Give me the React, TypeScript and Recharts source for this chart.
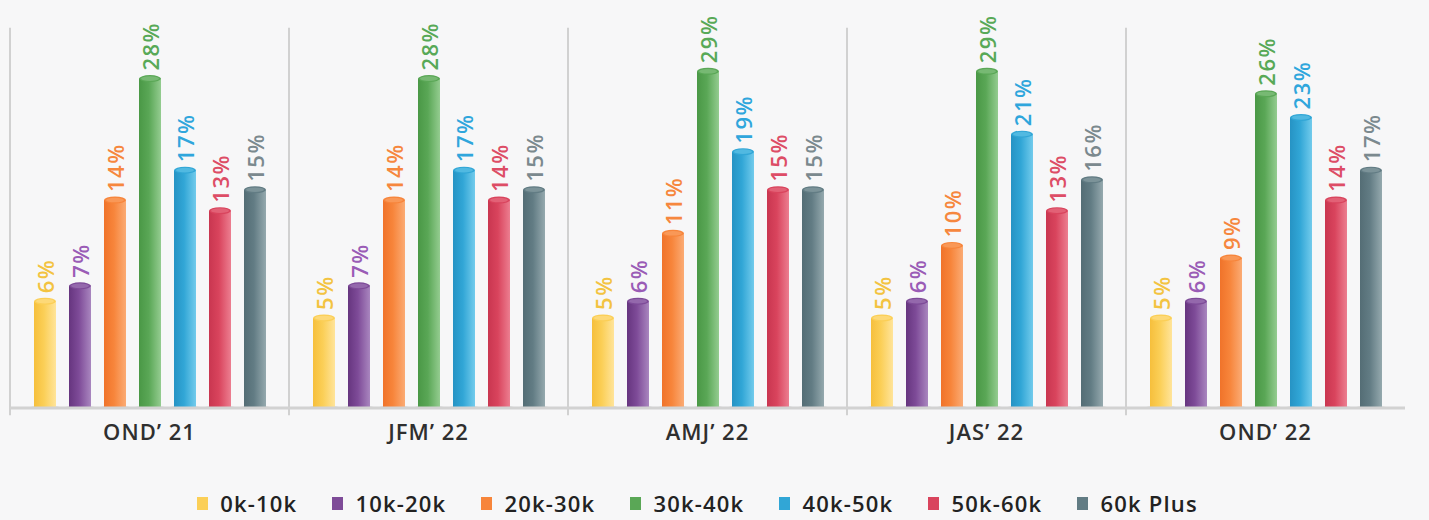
import { BarChart, Bar, XAxis, YAxis, LabelList, ReferenceLine } from "recharts";

// quarters on the x axis
const categories = ["OND’ 21", "JFM’ 22", "AMJ’ 22", "JAS’ 22", "OND’ 22"];

// share of respondents per income band, in %
const band0to10 = [6, 5, 5, 5, 5];
const band10to20 = [7, 7, 6, 6, 6];
const band20to30 = [14, 14, 11, 10, 9];
const band30to40 = [28, 28, 29, 29, 26];
const band40to50 = [17, 17, 19, 21, 23];
const band50to60 = [13, 14, 15, 13, 14];
const band60plus = [15, 15, 15, 16, 17];

const SERIES = [
  { key: "b0", name: "0k-10k", values: band0to10, color: "#fbcf57", dark: "#f6bf3c", light: "#ffe49a", label: "#f3c341" },
  { key: "b1", name: "10k-20k", values: band10to20, color: "#7e4b98", dark: "#66357f", light: "#a986bf", label: "#9a5cb6" },
  { key: "b2", name: "20k-30k", values: band20to30, color: "#f7853b", dark: "#f0732a", light: "#fbab74", label: "#f6873e" },
  { key: "b3", name: "30k-40k", values: band30to40, color: "#5aa756", dark: "#4a9846", light: "#94cc90", label: "#58a957" },
  { key: "b4", name: "40k-50k", values: band40to50, color: "#31a6d6", dark: "#2693c4", light: "#72cbec", label: "#2fa6dc" },
  { key: "b5", name: "50k-60k", values: band50to60, color: "#d9445d", dark: "#c93650", light: "#ec7e90", label: "#dd4d66" },
  { key: "b6", name: "60k Plus", values: band60plus, color: "#627c84", dark: "#546d75", light: "#95a9ae", label: "#7b898e" },
];

const data = categories.map((c, i) => {
  const row: Record<string, string | number> = { quarter: c };
  SERIES.forEach((s) => (row[s.key] = s.values[i]));
  return row;
});

const W = 1429;
const H = 470;
const PLOT_BOTTOM = 408;
const FONT = "'Open Sans', 'Noto Sans', sans-serif";

function Cylinder(props: any) {
  const { x, y, width, background, s, index } = props;
  const bottom = background ? background.y + background.height : PLOT_BOTTOM;
  const rx = width / 2;
  const ry = 3.5;
  const id = `g-${s.key}-${index}`;
  return (
    <g>
      <defs>
        <linearGradient id={id} x1="0" y1="0" x2="1" y2="0">
          <stop offset="0%" stopColor={s.dark} />
          <stop offset="45%" stopColor={s.color} />
          <stop offset="100%" stopColor={s.light} />
        </linearGradient>
      </defs>
      <ellipse cx={x + rx} cy={bottom + 1} rx={rx + 6} ry={4} fill="rgba(0,0,0,0.10)" />
      <path
        d={`M${x},${y} L${x},${bottom} A${rx},${ry} 0 0 0 ${x + width},${bottom} L${x + width},${y} Z`}
        fill={`url(#${id})`}
      />
      <ellipse cx={x + rx} cy={y} rx={rx} ry={ry} fill={s.color} />
      <ellipse cx={x + rx} cy={y} rx={rx - 2} ry={ry - 1.2} fill={s.light} opacity={0.5} />
    </g>
  );
}

function VLabel(props: any) {
  const { x, y, width, value, color } = props;
  const cx = x + width / 2;
  const cy = y - 8;
  return (
    <text
      x={cx}
      y={cy}
      transform={`rotate(-90 ${cx} ${cy})`}
      textAnchor="start"
      dominantBaseline="central"
      fill={color}
      fontFamily={FONT}
      fontSize={22}
      fontWeight={600}
      letterSpacing={1.5}
    >
      {value}%
    </text>
  );
}

function QuarterTick(props: any) {
  const { x, y, payload } = props;
  return (
    <text
      x={x}
      y={y + 24}
      textAnchor="middle"
      fill="#2f2f2f"
      fontFamily={FONT}
      fontSize={22}
      fontWeight={600}
      letterSpacing={1}
    >
      {payload.value}
    </text>
  );
}

export default function App() {
  return (
    <div
      style={{
        position: "absolute",
        left: 0,
        top: 0,
        width: W,
        height: 520,
        background: "#f7f7f8",
        fontFamily: FONT,
      }}
    >
      <BarChart
        width={W}
        height={H}
        data={data}
        margin={{ top: 50, right: 24, left: 10, bottom: 32 }}
        barSize={22}
        barGap={13}
      >
        <XAxis
          dataKey="quarter"
          height={30}
          axisLine={{ stroke: "#d2d2d2", strokeWidth: 3 }}
          tickLine={false}
          tick={<QuarterTick />}
          interval={0}
        />
        <YAxis hide scale="sqrt" domain={[1.18, 32]} allowDataOverflow />
        {/* separators at the start of each quarter's band */}
        {categories.map((c) => (
          <ReferenceLine
            key={c}
            position="start"
            segment={[
              { x: c, y: 35.3 },
              { x: c, y: 0.99 },
            ]}
            stroke="#c4c4c4"
            strokeWidth={1.5}
            ifOverflow="visible"
          />
        ))}
        {SERIES.map((s) => (
          <Bar
            key={s.key}
            dataKey={s.key}
            name={s.name}
            fill={s.color}
            isAnimationActive={false}
            shape={(p: any) => <Cylinder {...p} s={s} />}
          >
            <LabelList dataKey={s.key} content={(p: any) => <VLabel {...p} color={s.label} />} />
          </Bar>
        ))}
      </BarChart>

      {/* legend with square markers */}
      <div
        style={{
          position: "absolute",
          top: 488,
          left: 0,
          width: W - 34,
          display: "flex",
          justifyContent: "center",
          gap: 35,
          fontSize: 22,
          fontWeight: 600,
          letterSpacing: 1.2,
          color: "#222",
        }}
      >
        {SERIES.map((s) => (
          <div key={s.key} style={{ display: "flex", alignItems: "center", gap: 12 }}>
            <span style={{ width: 11, height: 13, background: s.color, display: "inline-block" }} />
            <span>{s.name}</span>
          </div>
        ))}
      </div>
    </div>
  );
}
